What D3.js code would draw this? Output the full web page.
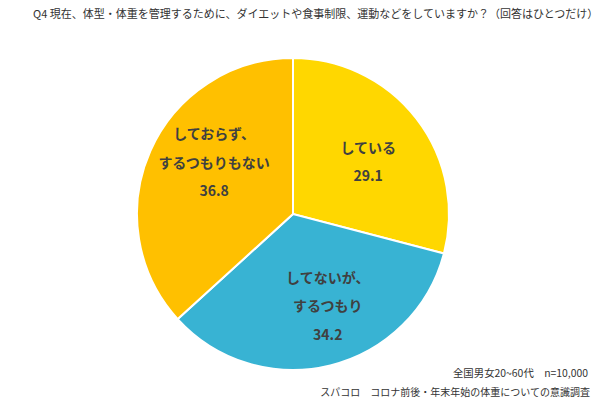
<!DOCTYPE html>
<html>
<head>
<meta charset="utf-8">
<script src="https://cdn.jsdelivr.net/npm/d3@7"></script>
<style>
body { margin:0; background:#fff; }
text { font-family: "Noto Sans CJK JP", "Noto Sans", sans-serif; }
</style>
</head>
<body>
<script>
// data
var categories = [["している"], ["してないが、", "するつもり"], ["しておらず、", "するつもりもない"]];
var values = [29.1, 34.2, 36.8];
var colors = ["#FFD700", "#38B3D3", "#FFC000"];
var nudges = [[0, 6], [12, 0], [8, -13]];

var width = 600, height = 405;
var cx = 293, cy = 214, r = 156;

var svg = d3.select("body").append("svg")
    .attr("width", width)
    .attr("height", height);

svg.append("text")
    .attr("x", 33).attr("y", 18)
    .attr("font-size", "11px")
    .attr("fill", "#333")
    .text("Q4 現在、体型・体重を管理するために、ダイエットや食事制限、運動などをしていますか？（回答はひとつだけ）");

var pie = d3.pie().sort(null).value(function(d){ return d; });
var arcs = pie(values);
var arc = d3.arc().innerRadius(0).outerRadius(r);
var labelArc = d3.arc().innerRadius(95).outerRadius(95);

var g = svg.append("g").attr("transform", "translate(" + cx + "," + cy + ")");

g.selectAll("path")
    .data(arcs)
    .enter()
    .append("path")
    .attr("d", arc)
    .style("fill", function(d, i){ return colors[i]; })
    .style("stroke", "#fff")
    .style("stroke-width", 2);

//labels
arcs.forEach(function(d, i) {
    var c = labelArc.centroid(d);
    var lines = categories[i].concat([values[i].toFixed(1)]);
    var x = c[0] + nudges[i][0], y = c[1] + nudges[i][1];
    var top = y - (lines.length - 1) * 28.5 / 2;
    var t = g.append("text")
        .attr("text-anchor", "middle")
        .attr("font-size", "14px")
        .attr("font-weight", "bold")
        .attr("fill", "#404040");
    lines.forEach(function(l, j) {
        t.append("tspan")
            .attr("x", x)
            .attr("y", top + j * 28.5 + 5)
            .text(l);
    });
});

svg.append("text")
    .attr("x", 588).attr("y", 377)
    .attr("text-anchor", "end")
    .attr("font-size", "10.4px")
    .attr("fill", "#333")
    .text("全国男女20~60代　n=10,000");
svg.append("text")
    .attr("x", 590).attr("y", 396)
    .attr("text-anchor", "end")
    .attr("font-size", "10px")
    .attr("fill", "#333")
    .text("スパコロ　コロナ前後・年末年始の体重についての意識調査");
</script>
</body>
</html>
